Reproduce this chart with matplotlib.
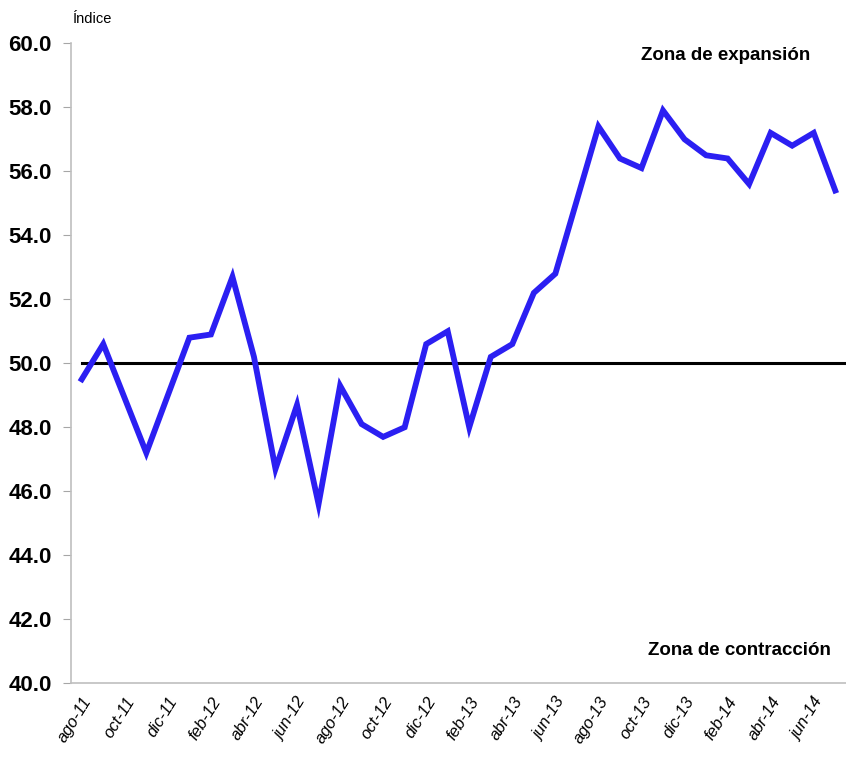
import matplotlib.pyplot as plt

plt.rcParams['font.family'] = ['Liberation Sans', 'DejaVu Sans']

months = ['ago-11', 'sep-11', 'oct-11', 'nov-11', 'dic-11', 'ene-12',
          'feb-12', 'mar-12', 'abr-12', 'may-12', 'jun-12', 'jul-12',
          'ago-12', 'sep-12', 'oct-12', 'nov-12', 'dic-12', 'ene-13',
          'feb-13', 'mar-13', 'abr-13', 'may-13', 'jun-13', 'jul-13',
          'ago-13', 'sep-13', 'oct-13', 'nov-13', 'dic-13', 'ene-14',
          'feb-14', 'mar-14', 'abr-14', 'may-14', 'jun-14', 'jul-14']
index_values = [49.5, 50.6, 48.9, 47.2, 49.0, 50.8,
                50.9, 52.7, 50.2, 46.7, 48.7, 45.6,
                49.3, 48.1, 47.7, 48.0, 50.6, 51.0,
                48.0, 50.2, 50.6, 52.2, 52.8, 55.1,
                57.4, 56.4, 56.1, 57.9, 57.0, 56.5,
                56.4, 55.6, 57.2, 56.8, 57.2, 55.4]
threshold = 50.0
y_ticks = [40, 42, 44, 46, 48, 50, 52, 54, 56, 58, 60]

fig = plt.figure(figsize=(8.46, 7.62), dpi=100)
ax = fig.add_axes([0.0839, 0.1033, 0.9161, 0.8399])

x = list(range(len(months)))
ax.plot(x, index_values, color='#2B1FF2', linewidth=4.2, solid_joinstyle='miter', zorder=3)
ax.plot([0, len(months) - 0.5], [threshold, threshold], color='black', linewidth=2.2, zorder=2)

ax.set_xlim(-0.5, len(months) - 0.5)
ax.set_ylim(40, 60)
ax.set_yticks(y_ticks)
ax.set_yticklabels([f'{v:.1f}' for v in y_ticks], fontsize=16, fontweight='bold')
ax.set_xticks(x[::2])
ax.set_xticklabels(months[::2], rotation=58, ha='right', va='top',
                   rotation_mode='anchor', fontsize=12, style='italic')

for side in ['top', 'right']:
    ax.spines[side].set_visible(False)
for side in ['left', 'bottom']:
    ax.spines[side].set_color('#BFBFBF')
    ax.spines[side].set_linewidth(1.2)
ax.tick_params(axis='y', direction='out', length=6, color='#A6A6A6', pad=8)
ax.tick_params(axis='x', length=0, pad=8)

fig.text(0.0863, 0.975, 'Índice', fontsize=10.5, ha='left', va='center')
ax.text(0.845, 0.981, 'Zona de expansión', transform=ax.transAxes,
        fontsize=13.5, fontweight='bold', ha='center', va='center')
ax.text(0.863, 0.052, 'Zona de contracción', transform=ax.transAxes,
        fontsize=13.5, fontweight='bold', ha='center', va='center')

fig.savefig('out.png', dpi=100)
